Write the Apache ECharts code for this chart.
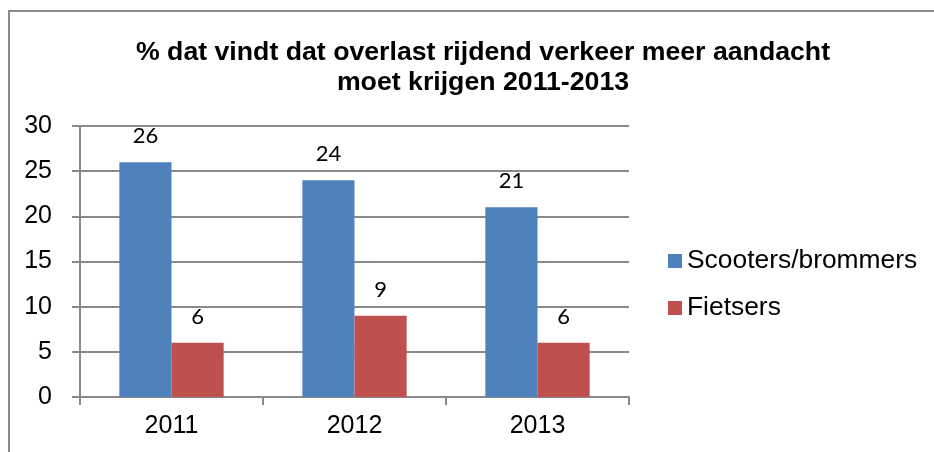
<!DOCTYPE html>
<html>
<head>
<meta charset="utf-8">
<script src="https://cdn.jsdelivr.net/npm/echarts@6/dist/echarts.min.js"></script>
<style>
  html, body { margin: 0; padding: 0; background: #fff; }
  #chart { width: 934px; height: 452px; }
</style>
</head>
<body>
<div id="chart"></div>
<script>
const years = ['2011', '2012', '2013']
const scooters = [26, 24, 21]
const fietsers = [6, 9, 6]
const yTicks = { min: 0, max: 30, interval: 5 }

const chart = echarts.init(document.getElementById('chart'))

const labelStyle = {
    show: true,
    position: 'top',
    distance: 15,
    fontFamily: 'Lato, "Open Sans", sans-serif',
    fontSize: 22,
    color: '#000'
}

const option = {
    animation: false,
    backgroundColor: '#fff',
    graphic: [
        {
            type: 'rect',
            shape: { x: 9, y: 11, width: 940, height: 460 },
            style: { fill: 'none', stroke: '#8a8a8a', lineWidth: 2 }
        }
    ],
    title: {
        text: '% dat vindt dat overlast rijdend verkeer meer aandacht\nmoet krijgen 2011-2013',
        left: 478,
        top: 33,
        textAlign: 'center',
        textStyle: {
            fontFamily: '"Liberation Sans", Arial, sans-serif',
            fontWeight: 'bold',
            fontSize: 26.7,
            lineHeight: 30,
            color: '#000'
        }
    },
    legend: {
        orient: 'vertical',
        left: 663,
        top: 243,
        itemWidth: 14,
        itemHeight: 14,
        itemGap: 21,
        icon: 'rect',
        textStyle: {
            fontFamily: '"Liberation Sans", Arial, sans-serif',
            fontSize: 26.4,
            color: '#000'
        },
        data: ['Scooters/brommers', 'Fietsers']
    },
    grid: {
        left: 80,
        right: 305,
        top: 126,
        bottom: 55
    },
    xAxis: {
        type: 'category',
        data: years,
        axisLine: { lineStyle: { color: '#8a8a8a', width: 2 } },
        axisTick: { show: true, length: 8, alignWithLabel: false, lineStyle: { color: '#8a8a8a', width: 2 } },
        axisLabel: {
            margin: 17,
            fontFamily: '"Liberation Sans", Arial, sans-serif',
            fontSize: 25,
            color: '#000'
        }
    },
    yAxis: {
        type: 'value',
        min: yTicks.min,
        max: yTicks.max,
        interval: yTicks.interval,
        axisLine: { show: true, lineStyle: { color: '#8a8a8a', width: 2 } },
        axisTick: { show: true, length: 8, lineStyle: { color: '#8a8a8a', width: 2 } },
        splitLine: { lineStyle: { color: '#8a8a8a', width: 2 } },
        axisLabel: {
            margin: 28,
            fontFamily: '"Liberation Sans", Arial, sans-serif',
            fontSize: 25,
            color: '#000'
        }
    },
    series: [
        {
            name: 'Scooters/brommers',
            type: 'bar',
            data: scooters,
            barGap: '0%',
            barCategoryGap: '43%',
            itemStyle: { color: '#4F81BD' },
            label: labelStyle
        },
        {
            name: 'Fietsers',
            type: 'bar',
            data: fietsers,
            itemStyle: { color: '#C0504D' },
            label: labelStyle
        }
    ]
}

chart.setOption(option)
</script>
</body>
</html>
